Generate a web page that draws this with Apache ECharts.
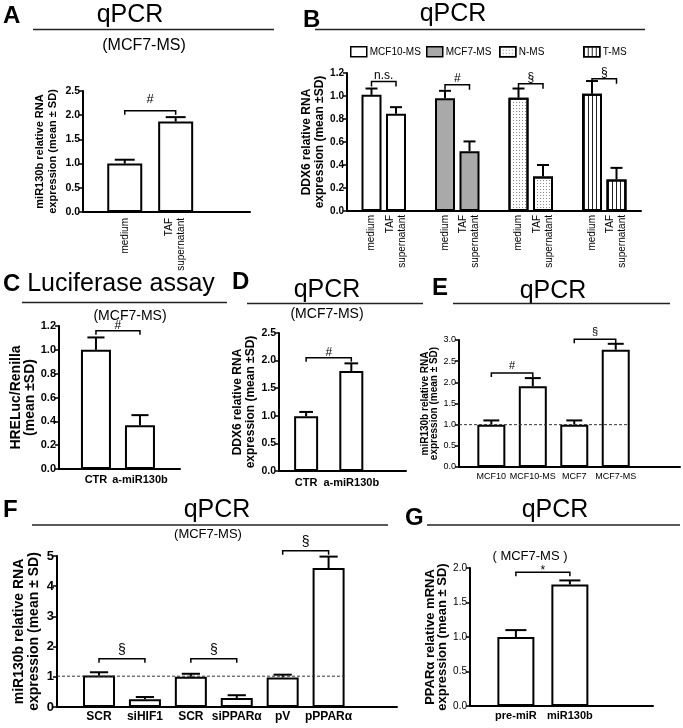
<!DOCTYPE html>
<html><head><meta charset="utf-8">
<script src="https://cdn.jsdelivr.net/npm/echarts@6/dist/echarts.min.js"></script>
<style>html,body{margin:0;padding:0;background:#fff}#c{width:683px;height:728px}</style>
</head><body><div id="c"></div>
<script>
// ---------------- DATA ----------------
// Panel A
const catsA = ['medium', 'TAF\nsupernatant'];
const meanA = [1.0, 1.87];
const sdA = [0.08, 0.09];
const sigA = [[0, 1, 2.09, '#']];
// Panel B
const catsB = ['', 'medium', 'TAF\nsupernatant', '', 'medium', 'TAF\nsupernatant', '', 'medium', 'TAF\nsupernatant', '', 'medium', 'TAF\nsupernatant', ''];
const groupsB = ['MCF10-MS', 'MCF7-MS', 'N-MS', 'T-MS'];
const meanB = [[1.01, 0.845], [0.98, 0.52], [0.985, 0.30], [1.02, 0.275]];
const sdB = [[0.055, 0.058], [0.065, 0.085], [0.08, 0.10], [0.11, 0.10]];
const sigB = [[1, 2, 1.127, 'n.s.'], [4, 5, 1.098, '#'], [7, 8, 1.107, '§'], [10, 11, 1.15, '§']];
// Panel C
const catsC = ['CTR', 'a-miR130b'];
const meanC = [1.0, 0.368];
const sdC = [0.104, 0.084];
const sigC = [[0, 1, 1.16, '#']];
// Panel D
const catsD = ['CTR', 'a-miR130b'];
const meanD = [0.99, 1.81];
const sdD = [0.08, 0.14];
const sigD = [[0, 1, 2.05, '#']];
// Panel E
const catsE = ['MCF10', 'MCF10-MS', 'MCF7', 'MCF7-MS'];
const meanE = [1.0, 1.91, 1.0, 2.77];
const sdE = [0.1, 0.19, 0.1, 0.14];
const sigE = [[0, 1, 2.22, '#'], [2, 3, 3.02, '§']];
const refE = 1.0;
// Panel F
const catsF = ['SCR', 'siHIF1', 'SCR', 'siPPARα', 'pV', 'pPPARα'];
const meanF = [1.04, 0.26, 1.0, 0.30, 0.98, 4.6];
const sdF = [0.11, 0.07, 0.10, 0.09, 0.09, 0.38];
const sigF = [[0, 1, 1.6, '§'], [2, 3, 1.6, '§'], [4, 5, 5.17, '§']];
const refF = 1.02;
// Panel G
const catsG = ['pre-miR', 'miR130b'];
const meanG = [1.0, 1.76];
const sdG = [0.1, 0.06];
const sigG = [[0, 1, 1.94, '*']];

// ---------------- STYLE / LAYOUT ----------------
const FONT = "'Liberation Sans', Arial, sans-serif";
const NARROW = "'Liberation Sans Narrow', 'Liberation Sans', Arial, sans-serif";
const grids = [], xAxes = [], yAxes = [], series = [];

function errItem(capW) {
  return function (params, api) {
    const x = api.value(0), m = api.value(1), s = api.value(2);
    const p0 = api.coord([x, m]), p1 = api.coord([x, m + s]);
    return {type: 'group', children: [
      {type: 'line', shape: {x1: p0[0], y1: p0[1], x2: p1[0], y2: p1[1]}, style: {stroke: '#000', lineWidth: 2}},
      {type: 'line', shape: {x1: p1[0] - capW / 2, y1: p1[1], x2: p1[0] + capW / 2, y2: p1[1]}, style: {stroke: '#000', lineWidth: 2}}
    ]};
  };
}
function sigItem(texts, font, off, tick) {
  return function (params, api) {
    const a = api.value(0), b = api.value(1), h = api.value(2);
    const p = api.coord([a, h]), q = api.coord([b, h]);
    return {type: 'group', children: [
      {type: 'polyline', shape: {points: [[p[0], p[1] + tick], [p[0], p[1]], [q[0], q[1]], [q[0], q[1] + tick]]}, style: {stroke: '#000', lineWidth: 1.5, fill: null}},
      {type: 'text', x: (p[0] + q[0]) / 2, y: p[1] - off, style: {text: texts[params.dataIndex], font: font, fill: '#000', align: 'center', verticalAlign: 'middle'}}
    ]};
  };
}
function refItem(barW) {
  return function (params, api) {
    const p = api.coord([api.value(0), api.value(1)]);
    return {type: 'line', shape: {x1: params.coordSys.x, y1: p[1], x2: p[0] + barW / 2, y2: p[1]}, style: {stroke: '#333', lineWidth: 1, lineDash: [3, 2]}};
  };
}
function yAxisOf(gi, c) {
  return {gridIndex: gi, type: 'value', min: 0, max: c.yMax, interval: c.yInt,
    axisLine: {show: true, onZero: false, lineStyle: {color: '#000', width: 2}},
    axisTick: {show: true, length: 4, lineStyle: {color: '#000', width: 1.5}},
    axisLabel: {color: '#000', fontFamily: c.tickFont, fontSize: c.tickSize, fontWeight: c.tickWeight, margin: 3, formatter: v => v.toFixed(c.dec)},
    splitLine: {show: false},
    name: c.yName, nameLocation: 'middle', nameRotate: 90, nameGap: c.nameGap,
    nameTextStyle: {color: '#000', fontFamily: c.nameFont, fontSize: c.nameSize, fontWeight: 'bold', lineHeight: c.nameLH}};
}
function addPanel(c) {
  const gi = grids.length;
  grids.push(Object.assign({outerBoundsMode: 'none', containLabel: false}, c.grid));
  xAxes.push({gridIndex: gi, type: 'value', min: c.xMin, max: c.xMax,
    axisLine: {show: true, onZero: false, lineStyle: {color: '#000', width: 2}},
    axisTick: {show: false}, axisLabel: {show: false}, splitLine: {show: false}});
  yAxes.push(yAxisOf(gi, c));
  series.push({type: 'bar', xAxisIndex: gi, yAxisIndex: gi, barWidth: c.barW, silent: true, z: 2,
    data: c.mean.map((m, i) => [i, m]),
    itemStyle: {color: '#fff', borderColor: '#000', borderWidth: 2},
    label: Object.assign({show: true, position: 'bottom', color: '#000', formatter: p => c.cats[p.dataIndex]}, c.label)});
  series.push({type: 'custom', xAxisIndex: gi, yAxisIndex: gi, silent: true, z: 3,
    data: c.mean.map((m, i) => [i, m, c.sd[i]]), renderItem: errItem(c.barW * 0.57)});
  series.push({type: 'custom', xAxisIndex: gi, yAxisIndex: gi, silent: true, z: 4,
    data: c.sig.map(s => [s[0], s[1], s[2]]), renderItem: sigItem(c.sig.map(s => s[3]), c.sigFont, c.sigOff, 4)});
  if (c.ref != null) {
    series.push({type: 'custom', xAxisIndex: gi, yAxisIndex: gi, silent: true, z: 5,
      data: [[c.cats.length - 1, c.ref]], renderItem: refItem(c.barW)});
  }
}

// Panel A
addPanel({grid: {left: 83, top: 91, width: 167, height: 121}, xMin: -0.82, xMax: 2.46,
  yMax: 2.5, yInt: 0.5, dec: 1, cats: catsA, mean: meanA, sd: sdA, sig: sigA, barW: 35,
  tickFont: FONT, tickSize: 10.5, tickWeight: 'bold',
  yName: 'miR130b relative RNA\nexpression (mean ± SD)', nameGap: 24, nameFont: FONT, nameSize: 11, nameLH: 13,
  label: {rotate: 90, align: 'right', verticalAlign: 'middle', distance: 6, fontFamily: NARROW, fontSize: 10, lineHeight: 12},
  sigFont: "13px " + FONT, sigOff: 11});

// Panel B (category axis, groups)
(function () {
  const gi = grids.length;
  grids.push({left: 347, top: 73, width: 294, height: 138, outerBoundsMode: 'none', containLabel: false});
  xAxes.push({gridIndex: gi, type: 'category', data: catsB, boundaryGap: false,
    axisLine: {show: true, lineStyle: {color: '#000', width: 2}}, axisTick: {show: false},
    axisLabel: {interval: 0, rotate: 90, margin: 4, color: '#000', fontFamily: NARROW, fontSize: 10, lineHeight: 12}});
  yAxes.push(yAxisOf(gi, {yMax: 1.2, yInt: 0.2, dec: 1, tickFont: FONT, tickSize: 10, tickWeight: 'bold',
    yName: 'DDX6 relative RNA\nexpression (mean ±SD)', nameGap: 21, nameFont: FONT, nameSize: 12, nameLH: 13}));
  const styleB = [
    {color: '#fff'},
    {color: '#a9a9a9'},
    {color: '#fff', decal: {symbol: 'rect', symbolSize: 1, dashArrayX: [1, 2], dashArrayY: [1, 2], color: '#8a8a8a'}},
    {color: '#fff', decal: {symbol: 'rect', symbolSize: 1, dashArrayX: [1, 3], dashArrayY: [4, 0], color: '#222'}}
  ];
  const posB = groupsB.map((g, i) => [3 * i + 1, 3 * i + 2]);
  groupsB.forEach((g, i) => {
    const d = catsB.map(() => '-');
    d[posB[i][0]] = meanB[i][0];
    d[posB[i][1]] = meanB[i][1];
    series.push({type: 'bar', name: g, xAxisIndex: gi, yAxisIndex: gi, stack: 'B', barWidth: 20, silent: true, z: 2,
      data: d, itemStyle: Object.assign({borderColor: '#000', borderWidth: 2}, styleB[i])});
  });
  const errB = [];
  groupsB.forEach((g, i) => { errB.push([posB[i][0], meanB[i][0], sdB[i][0]]); errB.push([posB[i][1], meanB[i][1], sdB[i][1]]); });
  series.push({type: 'custom', xAxisIndex: gi, yAxisIndex: gi, silent: true, z: 3, data: errB, renderItem: errItem(12)});
  series.push({type: 'custom', xAxisIndex: gi, yAxisIndex: gi, silent: true, z: 4,
    data: sigB.map(s => [s[0], s[1], s[2]]), renderItem: sigItem(sigB.map(s => s[3]), "12px " + FONT, 6, 5)});
})();

// Panel C
addPanel({grid: {left: 59, top: 326, width: 121, height: 143}, xMin: -0.84, xMax: 1.91,
  yMax: 1.2, yInt: 0.2, dec: 1, cats: catsC, mean: meanC, sd: sdC, sig: sigC, barW: 30,
  tickFont: FONT, tickSize: 11, tickWeight: 'bold',
  yName: 'HRELuc/Renilla\n(mean ±SD)', nameGap: 20, nameFont: FONT, nameSize: 14, nameLH: 14,
  label: {distance: 5, fontFamily: NARROW, fontSize: 11, fontWeight: 'bold'},
  sigFont: "12px " + FONT, sigOff: 5});

// Panel D
addPanel({grid: {left: 279, top: 333, width: 127, height: 138}, xMin: -0.6, xMax: 2.21,
  yMax: 2.5, yInt: 0.5, dec: 1, cats: catsD, mean: meanD, sd: sdD, sig: sigD, barW: 24,
  tickFont: FONT, tickSize: 10.5, tickWeight: 'bold',
  yName: 'DDX6 relative RNA\nexpression (mean ±SD)', nameGap: 20, nameFont: FONT, nameSize: 12, nameLH: 13,
  label: {distance: 6, fontFamily: NARROW, fontSize: 11, fontWeight: 'bold'},
  sigFont: "12px " + FONT, sigOff: 5});

// Panel E
addPanel({grid: {left: 459, top: 340, width: 221, height: 127}, xMin: -0.78, xMax: 4.55,
  yMax: 3, yInt: 0.5, dec: 1, cats: catsE, mean: meanE, sd: sdE, sig: sigE, ref: refE, barW: 28,
  tickFont: NARROW, tickSize: 9, tickWeight: 'normal',
  yName: 'miR130b relative RNA\nexpression (mean ± SD)', nameGap: 17, nameFont: FONT, nameSize: 10, nameLH: 9,
  label: {distance: 5, fontFamily: NARROW, fontSize: 9},
  sigFont: "11px " + NARROW, sigOff: 7});

// Panel F
addPanel({grid: {left: 57, top: 556, width: 340, height: 151}, xMin: -0.915, xMax: 6.49,
  yMax: 5, yInt: 1, dec: 0, cats: catsF, mean: meanF, sd: sdF, sig: sigF, ref: refF, barW: 32,
  tickFont: FONT, tickSize: 13, tickWeight: 'bold',
  yName: 'miR130b relative RNA\nexpression (mean ± SD)', nameGap: 15, nameFont: FONT, nameSize: 14, nameLH: 15,
  label: {distance: 4, fontFamily: FONT, fontSize: 12, fontWeight: 'bold'},
  sigFont: "14px " + FONT, sigOff: 9});

// Panel G
addPanel({grid: {left: 470, top: 568, width: 183, height: 138}, xMin: -0.85, xMax: 2.54,
  yMax: 2, yInt: 0.5, dec: 1, cats: catsG, mean: meanG, sd: sdG, sig: sigG, barW: 37,
  tickFont: NARROW, tickSize: 10, tickWeight: 'normal',
  yName: 'PPARα relative mRNA\nexpression (mean ± SD)', nameGap: 18, nameFont: FONT, nameSize: 13, nameLH: 12,
  label: {distance: 4, fontFamily: NARROW, fontSize: 11, fontWeight: 'bold'},
  sigFont: "12px " + FONT, sigOff: 1});

// ---------------- TITLES / RULES ----------------
function txt(text, x, y, font, align) {
  return {type: 'text', x: x, y: y, silent: true, style: {text: text, font: font, fill: '#000', align: align || 'center', verticalAlign: 'middle'}};
}
function rule(x1, x2, y) {
  return {type: 'line', silent: true, shape: {x1: x1, y1: y, x2: x2, y2: y}, style: {stroke: '#222', lineWidth: 1.5}};
}
const BIG = "25px " + FONT, LET = "bold 24px " + FONT;
const graphics = [
  txt('A', 3, 16, LET, 'left'), txt('qPCR', 130, 15, BIG), rule(33, 274, 29.5), txt('(MCF7-MS)', 144, 46, "16px " + FONT),
  txt('B', 303, 20, LET, 'left'), txt('qPCR', 453, 14, BIG), rule(315, 645, 29.5),
  txt('C', 3, 284, LET, 'left'), txt('Luciferase assay', 121, 284, BIG), rule(22, 227, 302.5), txt('(MCF7-MS)', 130, 316, "14px " + FONT),
  txt('D', 232, 282, LET, 'left'), txt('qPCR', 327, 290, BIG), rule(247, 423, 303.5), txt('(MCF7-MS)', 327, 314, "14px " + FONT),
  txt('E', 432, 288, LET, 'left'), txt('qPCR', 553, 291, BIG), rule(453, 670, 303.5),
  txt('F', 3, 510, LET, 'left'), txt('qPCR', 217, 510, BIG), rule(32, 388, 525), txt('(MCF7-MS)', 208, 534, "13px " + FONT),
  txt('G', 405, 518, LET, 'left'), txt('qPCR', 555, 510, BIG), rule(427, 680, 525), txt('( MCF7-MS )', 530, 556, "13px " + NARROW)
];

const legendLefts = [350, 426, 499, 583];
const legends = groupsB.map((g, i) => ({data: [g], left: legendLefts[i], top: 46, padding: 0, icon: 'rect',
  itemWidth: 16, itemHeight: 10, itemGap: 4, selectedMode: false,
  itemStyle: {borderColor: '#000', borderWidth: 1.5},
  textStyle: {fontFamily: FONT, fontSize: 10, color: '#000', padding: [0, 0, 0, -2]}}));

const chart = echarts.init(document.getElementById('c'));
chart.setOption({
  animation: false,
  backgroundColor: '#fff',
  grid: grids, xAxis: xAxes, yAxis: yAxes, series: series,
  legend: legends, graphic: graphics
});
</script></body></html>
